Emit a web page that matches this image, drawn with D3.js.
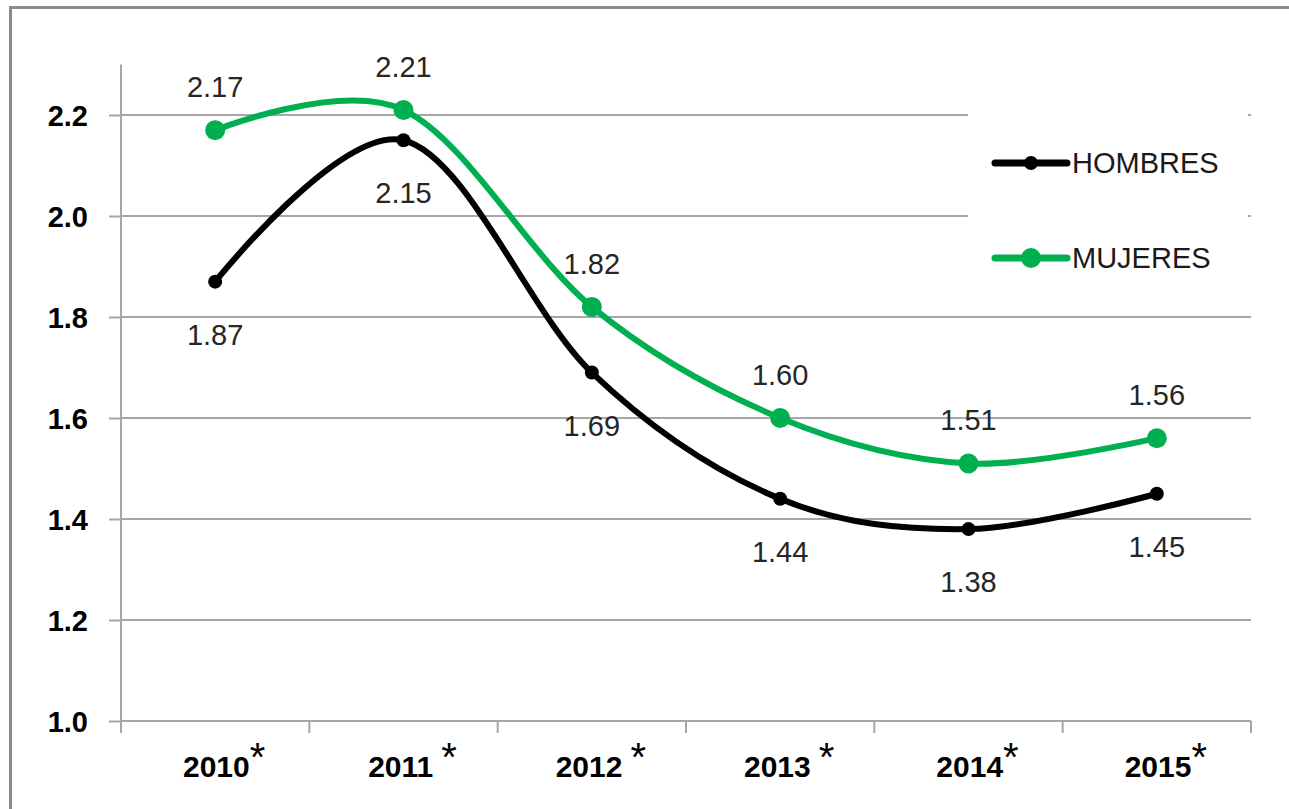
<!DOCTYPE html>
<html><head><meta charset="utf-8">
<script src="https://cdn.jsdelivr.net/npm/d3@7/dist/d3.min.js"></script>
<style>body{margin:0;background:#fff}svg{display:block}</style>
</head><body>
<svg id="c" width="1289" height="809"></svg>
<script>
const years = ["2010","2011","2012","2013","2014","2015"];
const yearSuffix = ["*"," *"," *"," *","*","*"];
const hombres = [1.87, 2.15, 1.69, 1.44, 1.38, 1.45];
const mujeres = [2.17, 2.21, 1.82, 1.60, 1.51, 1.56];
const yTicks = [1.0, 1.2, 1.4, 1.6, 1.8, 2.0, 2.2];
const seriesNames = ["HOMBRES", "MUJERES"];
const seriesColors = ["#000000", "#00B050"];

const svg = d3.select("#c");
const L = 121, R = 1251, T = 64.5, B = 721;
const x = d3.scaleBand().domain(years).range([L, R]).padding(0);
const cx = d => x(d) + x.bandwidth()/2;
const y = d3.scaleLinear().domain([1.0, 2.3]).range([B, T]);
const grid = "#a6a6a6";
const FONT = "'Liberation Sans', Arial, sans-serif";

// outer frame
svg.append("path").attr("d","M10.5,809 L10.5,7.5 L1289,7.5").attr("fill","none").attr("stroke","#8c8c8c").attr("stroke-width",3);

// gridlines
svg.append("g").selectAll("line").data(yTicks.slice(1)).join("line")
  .attr("x1", L).attr("x2", R).attr("y1", d=>y(d)).attr("y2", d=>y(d))
  .attr("stroke", grid).attr("stroke-width", 2);

// y axis
const ya = svg.append("g").attr("transform",`translate(${L},0)`)
  .call(d3.axisLeft(y).tickValues(yTicks).tickSize(12).tickSizeOuter(0).tickFormat(d3.format(".1f")));
ya.select(".domain").remove();
ya.selectAll(".tick line").attr("stroke", grid).attr("stroke-width", 2);
ya.selectAll(".tick text").attr("x", -33).attr("dy","0.35em")
  .style("font-family",FONT).style("font-size","29px").style("font-weight","bold").attr("fill","#000");
svg.append("line").attr("x1",L).attr("x2",L).attr("y1",T).attr("y2",B+12).attr("stroke",grid).attr("stroke-width",2);

// x axis
svg.append("line").attr("x1",L).attr("x2",R).attr("y1",B).attr("y2",B).attr("stroke",grid).attr("stroke-width",2);
const edges = years.map(d=>x(d)).concat([R]);
svg.append("g").selectAll("line").data(edges).join("line")
  .attr("x1",d=>d).attr("x2",d=>d).attr("y1",B).attr("y2",B+12).attr("stroke",grid).attr("stroke-width",2);
const xl = svg.append("g").selectAll("text").data(years).join("text")
  .attr("x", d=>cx(d)+9).attr("y", 777).attr("text-anchor","middle")
  .style("font-family",FONT).style("font-size","30px").style("font-weight","bold").attr("fill","#000");
xl.append("tspan").text(d=>d);
xl.append("tspan").attr("dy",-6).style("font-weight","normal").style("font-size","40px")
  .text((d,i)=>yearSuffix[i].replace(" ","\u2009"));

// legend background
svg.append("rect").attr("x",968).attr("y",100).attr("width",280).attr("height",200).attr("fill","#fff");

const line = d3.line().x((d,i)=>cx(years[i])).y(d=>y(d)).curve(d3.curveCardinal.tension(0));
const data = [hombres, mujeres];
const radii = [7, 10];
data.forEach((vals, s) => {
  svg.append("path").datum(vals).attr("d", line).attr("fill","none")
    .attr("stroke", seriesColors[s]).attr("stroke-width", 6).attr("stroke-linecap","round");
  svg.append("g").selectAll("circle").data(vals).join("circle")
    .attr("cx",(d,i)=>cx(years[i])).attr("cy",d=>y(d)).attr("r",radii[s]).attr("fill",seriesColors[s]);
  svg.append("g").selectAll("text").data(vals).join("text")
    .attr("x",(d,i)=>cx(years[i])).attr("y",d=> s===0 ? y(d)+63 : y(d)-33)
    .attr("text-anchor","middle").style("font-family",FONT)
    .style("font-size","29px").attr("fill","#262626").text(d=>d.toFixed(2));
});

// legend
const ly = [163, 258];
seriesNames.forEach((n, s) => {
  svg.append("line").attr("x1",995).attr("x2",1067).attr("y1",ly[s]).attr("y2",ly[s])
    .attr("stroke",seriesColors[s]).attr("stroke-width",7).attr("stroke-linecap","round");
  svg.append("circle").attr("cx",1031).attr("cy",ly[s]).attr("r",radii[s]).attr("fill",seriesColors[s]);
  svg.append("text").attr("x",1072).attr("y",ly[s]+10).style("font-family",FONT)
    .style("font-size","29px").attr("fill","#1a1a1a").text(n);
});
</script>
</body></html>
